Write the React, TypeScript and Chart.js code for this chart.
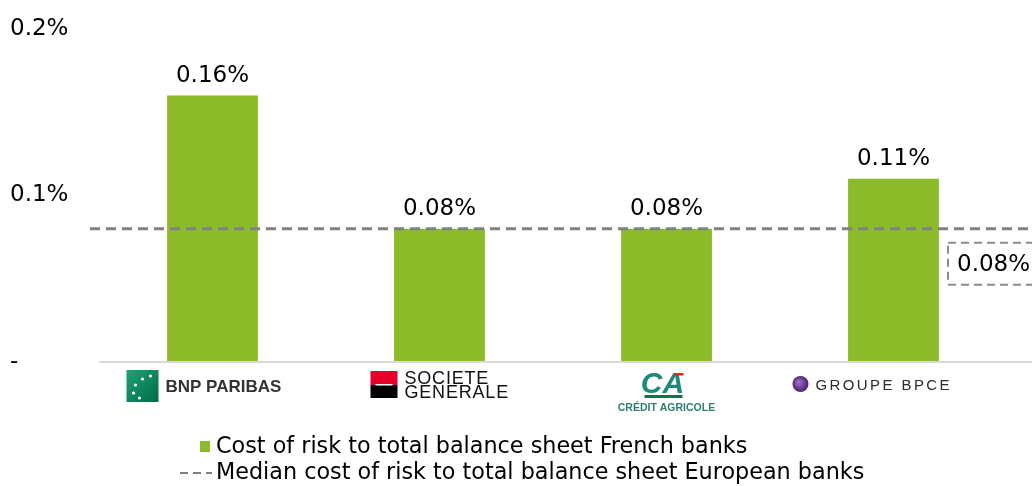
import React, { useEffect, useRef } from "react";
import { Chart, registerables } from "chart.js";

Chart.register(...registerables);

const CATEGORIES = ["BNP PARIBAS", "SOCIETE GENERALE", "CRÉDIT AGRICOLE", "GROUPE BPCE"];
const COST_OF_RISK = [0.16, 0.08, 0.08, 0.11];
const EU_MEDIAN = 0.08;
const Y_MIN = 0;
const Y_MAX = 0.2;
const Y_STEP = 0.1;
const SERIES_FR = "Cost of risk to total balance sheet French banks";
const SERIES_EU = "Median cost of risk to total balance sheet European banks";

const BAR_COLOR = "#8BBB28";
const LINE_COLOR = "#808080";
const FONT = "DejaVu Sans, Verdana, sans-serif";

const fmt = (v: number) => v.toFixed(2) + "%";

function drawLogo(ctx: CanvasRenderingContext2D, idx: number, cx: number, top: number) {
  ctx.save();
  ctx.textBaseline = "alphabetic";
  ctx.textAlign = "left";
  if (idx === 0) {
    // BNP Paribas
    const x0 = cx - 86, y0 = top + 8;
    const g = ctx.createLinearGradient(x0, y0, x0 + 32, y0 + 32);
    g.addColorStop(0, "#1fa37a");
    g.addColorStop(1, "#006a45");
    ctx.fillStyle = g;
    ctx.fillRect(x0, y0, 32, 32);
    ctx.fillStyle = "#ffffff";
    const stars = [[24, 6], [16, 9], [9, 15], [7, 23], [13, 28]];
    for (const [sx, sy] of stars) {
      ctx.beginPath();
      ctx.arc(x0 + sx, y0 + sy, 1.6, 0, Math.PI * 2);
      ctx.fill();
    }
    ctx.fillStyle = "#333333";
    ctx.font = "bold 17px 'Liberation Sans', Arial, sans-serif";
    ctx.fillText(CATEGORIES[0], x0 + 39, y0 + 22);
  } else if (idx === 1) {
    // Societe Generale
    const x0 = cx - 69, y0 = top + 9;
    ctx.fillStyle = "#e60028";
    ctx.fillRect(x0, y0, 27, 14);
    ctx.fillStyle = "#000000";
    ctx.fillRect(x0, y0 + 14, 27, 13);
    ctx.fillStyle = "#ffffff";
    ctx.fillRect(x0 + 5, y0 + 13, 17, 1.5);
    ctx.fillStyle = "#111111";
    ctx.font = "18px 'Liberation Sans', Arial, sans-serif";
    (ctx as any).letterSpacing = "0.8px";
    const [w1, w2] = CATEGORIES[1].split(" ");
    ctx.fillText(w1, x0 + 34, top + 22);
    ctx.fillText(w2, x0 + 34, top + 36);
  } else if (idx === 2) {
    // Credit Agricole
    ctx.fillStyle = "#1d8a78";
    ctx.font = "italic bold 30px 'Liberation Sans', Arial, sans-serif";
    ctx.textAlign = "center";
    ctx.fillText("CA", cx - 4, top + 31);
    ctx.fillStyle = "#e2231a";
    ctx.fillRect(cx + 8, top + 11, 9, 2.5);
    ctx.fillStyle = "#1a6e4a";
    ctx.fillRect(cx - 22, top + 33, 38, 3);
    ctx.fillStyle = "#2f7d6e";
    ctx.font = "bold 10.5px 'Liberation Sans', Arial, sans-serif";
    ctx.fillText(CATEGORIES[2], cx, top + 49);
  } else {
    // Groupe BPCE
    const ccx = cx - 93, ccy = top + 22;
    const g = ctx.createRadialGradient(ccx - 2, ccy - 2, 1, ccx, ccy, 8);
    g.addColorStop(0, "#9a6cc0");
    g.addColorStop(1, "#4b1f72");
    ctx.fillStyle = g;
    ctx.beginPath();
    ctx.arc(ccx, ccy, 8, 0, Math.PI * 2);
    ctx.fill();
    ctx.fillStyle = "#2b2b2b";
    ctx.font = "15px 'Liberation Sans', Arial, sans-serif";
    (ctx as any).letterSpacing = "2.4px";
    ctx.fillText(CATEGORIES[3], ccx + 15, ccy + 6);
  }
  ctx.restore();
}

const overlayPlugin = {
  id: "overlay",
  afterDatasetsDraw(chart: any) {
    const ctx: CanvasRenderingContext2D = chart.ctx;
    const xs = chart.scales.x;
    const ys = chart.scales.y;
    const area = chart.chartArea;
    const W = chart.width;

    // axis baseline
    ctx.save();
    ctx.strokeStyle = "#d9d9d9";
    ctx.lineWidth = 2;
    ctx.beginPath();
    ctx.moveTo(area.left, area.bottom);
    ctx.lineTo(W, area.bottom);
    ctx.stroke();
    ctx.restore();

    // value labels
    const meta = chart.getDatasetMeta(0);
    ctx.save();
    ctx.fillStyle = "#000";
    ctx.font = `23px ${FONT}`;
    ctx.textAlign = "center";
    ctx.textBaseline = "alphabetic";
    meta.data.forEach((bar: any, i: number) => {
      ctx.fillText(fmt(COST_OF_RISK[i]), bar.x, bar.y - 14);
    });
    ctx.restore();

    // median line
    const my = ys.getPixelForValue(EU_MEDIAN);
    ctx.save();
    ctx.strokeStyle = LINE_COLOR;
    ctx.lineWidth = 3;
    ctx.setLineDash([10, 6]);
    ctx.beginPath();
    ctx.moveTo(area.left - 9, my);
    ctx.lineTo(W, my);
    ctx.stroke();

    // median label box
    ctx.strokeStyle = "#8c8c8c";
    ctx.lineWidth = 2;
    ctx.setLineDash([8, 5]);
    ctx.strokeRect(948, my + 14, 100, 42);
    ctx.setLineDash([]);
    ctx.fillStyle = "#000";
    ctx.font = `23px ${FONT}`;
    ctx.textAlign = "left";
    ctx.textBaseline = "middle";
    ctx.fillText(fmt(EU_MEDIAN), 957, my + 36);
    ctx.restore();

    // category logos
    CATEGORIES.forEach((_, i) => {
      drawLogo(ctx, i, xs.getPixelForValue(i), area.bottom);
    });

    // legend
    ctx.save();
    ctx.font = `22.3px ${FONT}`;
    ctx.textAlign = "left";
    ctx.textBaseline = "middle";
    ctx.fillStyle = BAR_COLOR;
    ctx.fillRect(200, 441, 10, 11);
    ctx.fillStyle = "#000";
    ctx.fillText(SERIES_FR, 216, 447);
    ctx.strokeStyle = LINE_COLOR;
    ctx.lineWidth = 2;
    ctx.setLineDash([8, 5]);
    ctx.beginPath();
    ctx.moveTo(180, 473);
    ctx.lineTo(212, 473);
    ctx.stroke();
    ctx.fillText(SERIES_EU, 216, 473);
    ctx.restore();
  },
};

export default function App() {
  const ref = useRef<HTMLCanvasElement | null>(null);
  useEffect(() => {
    if (!ref.current) return;
    const chart = new Chart(ref.current, {
      type: "bar",
      data: {
        labels: CATEGORIES,
        datasets: [
          {
            label: SERIES_FR,
            data: COST_OF_RISK,
            backgroundColor: BAR_COLOR,
            categoryPercentage: 1,
            barPercentage: 0.4,
          },
        ],
      },
      options: {
        animation: false,
        responsive: false,
        devicePixelRatio: 1,
        layout: { padding: { left: 10, top: 29, right: 25, bottom: 124 } },
        plugins: { legend: { display: false }, tooltip: { enabled: false } },
        scales: {
          x: {
            display: false,
          },
          y: {
            min: Y_MIN,
            max: Y_MAX,
            grid: { display: false },
            border: { display: false },
            ticks: {
              stepSize: Y_STEP,
              crossAlign: "far",
              color: "#000",
              font: { family: FONT, size: 23 },
              callback: (v: any) => (Number(v) === 0 ? "-" : Number(v).toFixed(1) + "%"),
            },
            afterFit: (s: any) => {
              s.width = 89;
            },
          },
        },
      },
      plugins: [overlayPlugin],
    } as any);
    return () => chart.destroy();
  }, []);
  return (
    <div style={{ position: "fixed", left: 0, top: 0, width: 1032, height: 486, background: "#fff" }}>
      <canvas ref={ref} width={1032} height={486} />
    </div>
  );
}
